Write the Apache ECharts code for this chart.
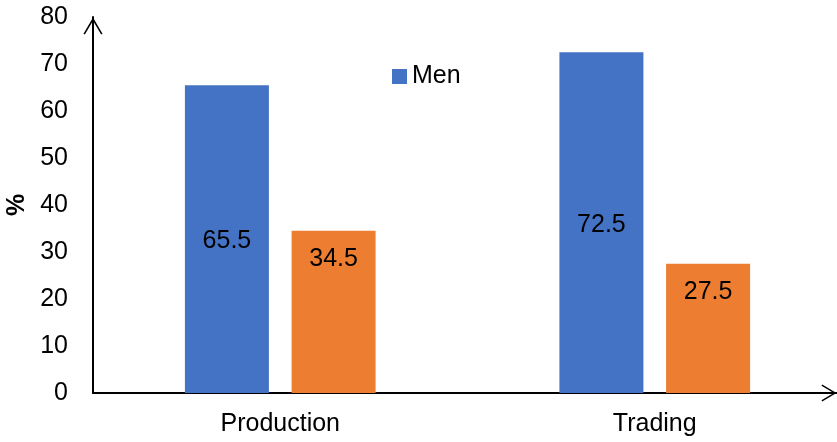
<!DOCTYPE html>
<html>
<head>
<meta charset="utf-8">
<script src="https://cdn.jsdelivr.net/npm/echarts@6/dist/echarts.min.js"></script>
<style>html,body{margin:0;padding:0;background:#fff;}#c{width:837px;height:442px;}</style>
</head>
<body>
<div id="c"></div>
<script>
var categories = ['Production', 'Trading'];
var menValues = [65.5, 72.5];
var womenValues = [34.5, 27.5];
var yTicks = [0, 10, 20, 30, 40, 50, 60, 70, 80];

var chevron = 'path://M0,17 L10,0 L20,17 L18.6,17.9 L10,3.4 L1.4,17.9 Z';
var chart = echarts.init(document.getElementById('c'), null, {renderer: 'canvas'});
var font = 'Liberation Sans, Arial, sans-serif';
var fs = 25;
chart.setOption({
  animation: false,
  textStyle: {fontFamily: font},
  legend: {
    data: ['Men'],
    icon: 'rect',
    left: 387, top: 59,
    itemWidth: 15, itemHeight: 15, itemGap: 5,
    textStyle: {fontSize: fs, color: '#000', fontFamily: font}
  },
  grid: {left: 93, top: 17, width: 749, height: 376, containLabel: false, outerBoundsMode: 'none'},
  xAxis: {
    type: 'category',
    data: categories,
    axisLine: {
      show: true,
      lineStyle: {color: '#000', width: 2},
      symbol: ['none', chevron],
      symbolSize: [22, 15],
      symbolOffset: [0, -13]
    },
    axisTick: {show: false},
    axisLabel: {fontSize: fs, color: '#000', margin: 19, fontFamily: font}
  },
  yAxis: {
    type: 'value',
    min: yTicks[0], max: yTicks[yTicks.length - 1], interval: 10,
    name: '%',
    nameLocation: 'middle',
    nameGap: 60,
    nameRotate: 90,
    nameTextStyle: {fontSize: fs, fontWeight: 'bold', color: '#000', fontFamily: font},
    axisLine: {
      show: true,
      lineStyle: {color: '#000', width: 2},
      symbol: ['none', chevron],
      symbolSize: [22, 17],
      symbolOffset: [0, -9]
    },
    axisTick: {show: false},
    splitLine: {show: false},
    axisLabel: {fontSize: fs, color: '#000', margin: 25, fontFamily: font}
  },
  series: [
    {
      name: 'Men', type: 'bar', data: menValues,
      barWidth: 84, barGap: '27%',
      itemStyle: {color: '#4472C4'},
      label: {show: true, position: 'inside', offset: [0, 2], fontSize: fs, color: '#000', fontFamily: font}
    },
    {
      name: 'Women', type: 'bar', data: womenValues,
      barWidth: 84, barGap: '27%',
      itemStyle: {color: '#ED7D31'},
      label: {show: true, position: 'insideTop', distance: 16, fontSize: fs, color: '#000', fontFamily: font}
    }
  ]
});
</script>
</body>
</html>
